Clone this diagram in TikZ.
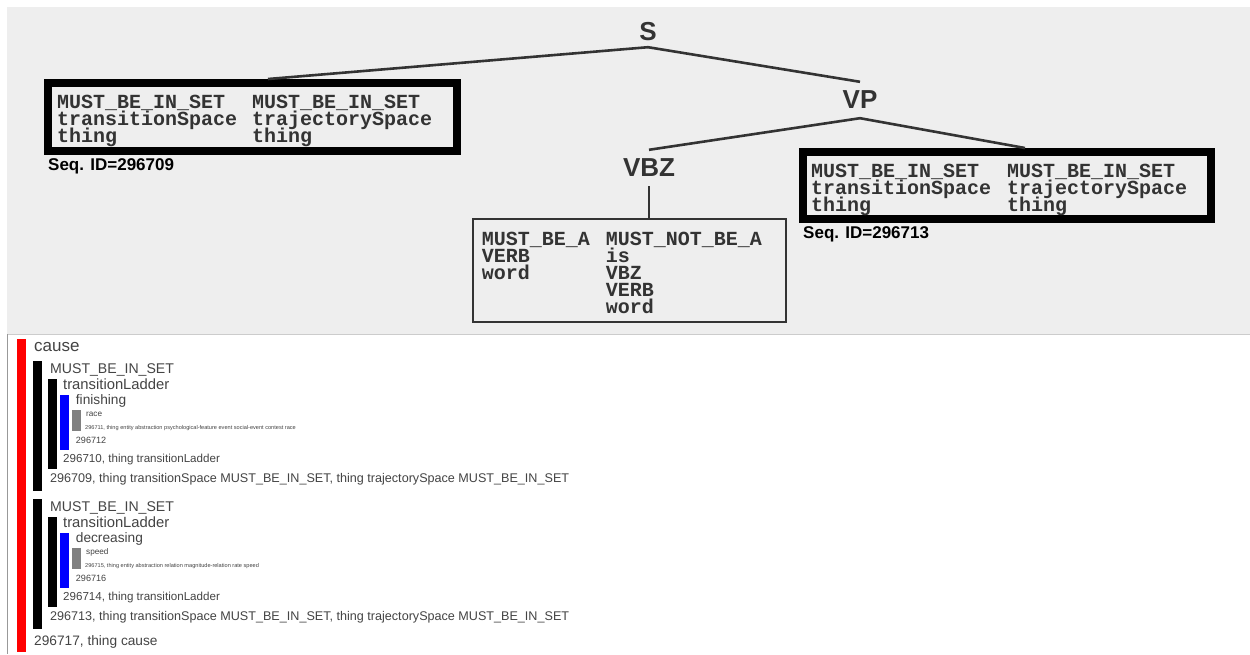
\documentclass[tikz,border=0pt]{standalone}
\usepackage{fontspec}
\setmainfont{Liberation Sans}
\newfontfamily\cellfont{Liberation Mono}
\usetikzlibrary{positioning, calc}
\definecolor{pgpanel}{HTML}{EEEEEE}
\definecolor{pgedge}{HTML}{CCCCCC}
\definecolor{pgline}{HTML}{999999}
\definecolor{pgink}{HTML}{333333}
\definecolor{pgtext}{HTML}{444444}
\definecolor{pgred}{HTML}{FF0000}
\definecolor{pgblue}{HTML}{0000FF}
\definecolor{pggray}{HTML}{808080}
\newcommand{\celltight}{\cellfont\bfseries\fontsize{20}{17}\selectfont\lineskiplimit=-100pt\relax\lineskip=0pt\relax}
\newcommand{\cellrows}[1]{\vtop{\let\\\cr\halign{##\hfil\cr#1\crcr}}}

\begin{document}
\begin{tikzpicture}[
  x=1pt, y=-1pt,
  treenode/.style={font=\bfseries\fontsize{26}{26}\selectfont, text=pgink, inner sep=0pt, minimum height=36pt},
  treeline/.style={draw=pgink, line width=2.6pt},
  ruleframe/.style={rectangle, draw=black, line width=8pt, fill=pgpanel, inner sep=0pt},
  thinframe/.style={rectangle, draw=pgink, line width=1.3pt, fill=pgpanel, inner sep=0pt},
  celltext/.style={anchor=base west, inner sep=0pt, text=pgink, font=\celltight},
  seqtext/.style={anchor=base west, inner sep=0pt, text=black, font=\bfseries\fontsize{17}{17}\selectfont},
  listtext/.style={anchor=base west, inner sep=0pt, text=pgtext, font=\fontsize{#1}{#1}\selectfont},
  redbar/.style={fill=pgred},
  blackbar/.style={fill=black},
  bluebar/.style={fill=pgblue},
  graybar/.style={fill=pggray},
]
\useasboundingbox (0,0) rectangle (1250,654);
\fill[white] (0,0) rectangle (1250,654);

% parse tree panel
\fill[pgpanel] (7,7) rectangle (1250,334);
\draw[pgedge] (7,334) -- (1250,334);
\draw[pgline] (7.5,334) -- (7.5,654);

\node[treenode, minimum height=30pt] (s) at (648,32) {S};
\node[treenode] (vp) at (860,100) {VP};
\node[treenode] (vbz) at (649,168) {VBZ};

\node[ruleframe, minimum width=409pt, minimum height=68pt] (lbox) at (252.5,117) {};
\node[celltext] (lcolA) at (57,108) {\cellrows{MUST\_BE\_IN\_SET\\transitionSpace\\thing}};
\node[celltext] (lcolB) at (252,108) {\cellrows{MUST\_BE\_IN\_SET\\trajectorySpace\\thing}};
\node[seqtext] (lseq) at (48,170) {Seq. ID=296709};

\node[ruleframe, minimum width=408pt, minimum height=67pt] (rbox) at (1007,185.5) {};
\node[celltext] (rcolA) at (811,177.3) {\cellrows{MUST\_BE\_IN\_SET\\transitionSpace\\thing}};
\node[celltext] (rcolB) at (1007,177.3) {\cellrows{MUST\_BE\_IN\_SET\\trajectorySpace\\thing}};
\node[seqtext] (rseq) at (803,238.3) {Seq. ID=296713};

\node[thinframe, minimum width=313pt, minimum height=103pt] (mbox) at (629.5,270.5) {};
\node[celltext] (mcolA) at (481.7,245) {\cellrows{MUST\_BE\_A\\VERB\\word}};
\node[celltext] (mcolB) at (605.7,245) {\cellrows{MUST\_NOT\_BE\_A\\is\\VBZ\\VERB\\word}};

\draw[treeline] (s.south) -- ([xshift=15.5pt]lbox.north);
\draw[treeline] (s.south) -- (vp.north);
\draw[treeline] (vp.south) -- (vbz.north);
\draw[treeline] (vp.south) -- ([xshift=18pt]rbox.north);
\draw[treeline] (vbz.south) -- (vbz.south |- mbox.north);

% nested frame listing
\fill[redbar] (17,339) rectangle (25.5,652);
\fill[blackbar] (33,361) rectangle (42,491);
\fill[blackbar] (48,379) rectangle (57,469);
\fill[bluebar] (60,395) rectangle (69,450);
\fill[graybar] (72,410) rectangle (80.5,431);
\fill[blackbar] (33,499) rectangle (42,629);
\fill[blackbar] (48,517) rectangle (57,607);
\fill[bluebar] (60,533) rectangle (69,588);
\fill[graybar] (72,548) rectangle (80.5,569);

\node[listtext=17] (c0) at (34,351.7) {cause};
\node[listtext=14.1] (m1) at (50,373.3) {MUST\_BE\_IN\_SET};
\node[listtext=14.8] (t1) at (63,389.3) {transitionLadder};
\node[listtext=13.7] (f1) at (75.7,404) {finishing};
\node[listtext=8.2] (r1) at (86,416.7) {race};
\node[listtext=5.6] (d1) at (85,429) {296711, thing entity abstraction psychological-feature event social-event contest race};
\node[listtext=9.1] (n1) at (75.7,443.3) {296712};
\node[listtext=11.6] (n2) at (63,462.7) {296710, thing transitionLadder};
\node[listtext=12.6] (n3) at (50,482.7) {296709, thing transitionSpace MUST\_BE\_IN\_SET, thing trajectorySpace MUST\_BE\_IN\_SET};

\node[listtext=14.1] (m2) at (50,511.3) {MUST\_BE\_IN\_SET};
\node[listtext=14.8] (t2) at (63,527.3) {transitionLadder};
\node[listtext=13.7] (f2) at (75.7,542) {decreasing};
\node[listtext=8.2] (r2) at (86,554.7) {speed};
\node[listtext=5.6] (d2) at (85,567) {296715, thing entity abstraction relation magnitude-relation rate speed};
\node[listtext=9.1] (n4) at (75.7,581.3) {296716};
\node[listtext=11.6] (n5) at (63,600.7) {296714, thing transitionLadder};
\node[listtext=12.6] (n6) at (50,620.7) {296713, thing transitionSpace MUST\_BE\_IN\_SET, thing trajectorySpace MUST\_BE\_IN\_SET};
\node[listtext=13.7] (c1) at (34,645.7) {296717, thing cause};
\end{tikzpicture}
\end{document}
